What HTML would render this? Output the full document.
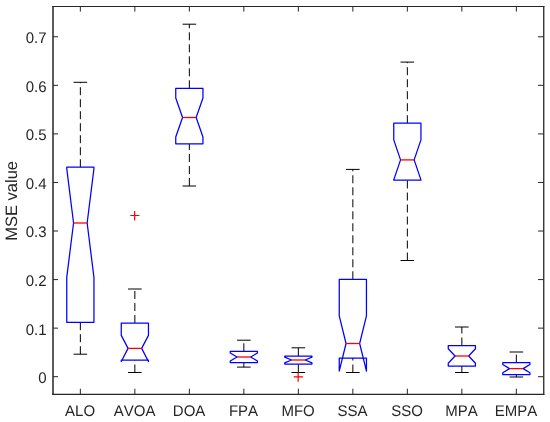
<!DOCTYPE html>
<html><head><meta charset="utf-8"><style>
html,body{margin:0;padding:0;background:#fff;}
body{width:550px;height:422px;overflow:hidden;font-family:"Liberation Sans",sans-serif;}
svg{display:block;position:absolute;left:0;top:0;}
.t{will-change:transform;}
text{font-kerning:none;text-rendering:geometricPrecision;}
</style></head><body>
<svg width="550" height="422" viewBox="0 0 550 422">
<rect width="550" height="422" fill="#fff"/>
<line x1="80.35" y1="167.2" x2="80.35" y2="82.3" stroke="#000" stroke-width="1" stroke-dasharray="8 4"/>
<line x1="80.35" y1="354.2" x2="80.35" y2="322.3" stroke="#000" stroke-width="1" stroke-dasharray="8 4"/>
<line x1="73.55" y1="82.3" x2="87.15" y2="82.3" stroke="#000" stroke-width="1"/>
<line x1="73.55" y1="354.2" x2="87.15" y2="354.2" stroke="#000" stroke-width="1"/>
<polygon points="66.75,322.3 66.75,277.44 73.55,223 66.75,168.56 66.75,167.2 93.95,167.2 93.95,168.56 87.15,223 93.95,277.44 93.95,322.3" fill="none" stroke="#0000ff" stroke-width="1.25" stroke-linejoin="round"/>
<line x1="73.55" y1="223" x2="87.15" y2="223" stroke="#ff0000" stroke-width="1.3"/>
<line x1="134.85" y1="323" x2="134.85" y2="289" stroke="#000" stroke-width="1" stroke-dasharray="8 4"/>
<line x1="134.85" y1="372.5" x2="134.85" y2="360.2" stroke="#000" stroke-width="1" stroke-dasharray="8 4"/>
<line x1="128.05" y1="289" x2="141.65" y2="289" stroke="#000" stroke-width="1"/>
<line x1="128.05" y1="372.5" x2="141.65" y2="372.5" stroke="#000" stroke-width="1"/>
<polygon points="121.25,360.2 121.25,361.46 128.05,348.4 121.25,335.34 121.25,323 148.45,323 148.45,335.34 141.65,348.4 148.45,361.46 148.45,360.2" fill="none" stroke="#0000ff" stroke-width="1.25" stroke-linejoin="round"/>
<line x1="128.05" y1="348.4" x2="141.65" y2="348.4" stroke="#ff0000" stroke-width="1.3"/>
<line x1="189.35" y1="88.3" x2="189.35" y2="24.2" stroke="#000" stroke-width="1" stroke-dasharray="8 4"/>
<line x1="189.35" y1="186" x2="189.35" y2="143.8" stroke="#000" stroke-width="1" stroke-dasharray="8 4"/>
<line x1="182.55" y1="24.2" x2="196.15" y2="24.2" stroke="#000" stroke-width="1"/>
<line x1="182.55" y1="186" x2="196.15" y2="186" stroke="#000" stroke-width="1"/>
<polygon points="175.75,143.8 175.75,136.98 182.55,117.5 175.75,98.02 175.75,88.3 202.95,88.3 202.95,98.02 196.15,117.5 202.95,136.98 202.95,143.8" fill="none" stroke="#0000ff" stroke-width="1.25" stroke-linejoin="round"/>
<line x1="182.55" y1="117.5" x2="196.15" y2="117.5" stroke="#ff0000" stroke-width="1.3"/>
<line x1="243.85" y1="351.3" x2="243.85" y2="340.2" stroke="#000" stroke-width="1" stroke-dasharray="8 4"/>
<line x1="243.85" y1="367.1" x2="243.85" y2="362.6" stroke="#000" stroke-width="1" stroke-dasharray="8 4"/>
<line x1="237.05" y1="340.2" x2="250.65" y2="340.2" stroke="#000" stroke-width="1"/>
<line x1="237.05" y1="367.1" x2="250.65" y2="367.1" stroke="#000" stroke-width="1"/>
<polygon points="230.25,362.6 230.25,360.97 237.05,357 230.25,353.03 230.25,351.3 257.45,351.3 257.45,353.03 250.65,357 257.45,360.97 257.45,362.6" fill="none" stroke="#0000ff" stroke-width="1.25" stroke-linejoin="round"/>
<line x1="237.05" y1="357" x2="250.65" y2="357" stroke="#ff0000" stroke-width="1.3"/>
<line x1="298.35" y1="356" x2="298.35" y2="347.8" stroke="#000" stroke-width="1" stroke-dasharray="8 4"/>
<line x1="298.35" y1="372.5" x2="298.35" y2="364" stroke="#000" stroke-width="1" stroke-dasharray="8 4"/>
<line x1="291.55" y1="347.8" x2="305.15" y2="347.8" stroke="#000" stroke-width="1"/>
<line x1="291.55" y1="372.5" x2="305.15" y2="372.5" stroke="#000" stroke-width="1"/>
<polygon points="284.75,364 284.75,362.81 291.55,360 284.75,357.19 284.75,356 311.95,356 311.95,357.19 305.15,360 311.95,362.81 311.95,364" fill="none" stroke="#0000ff" stroke-width="1.25" stroke-linejoin="round"/>
<line x1="291.55" y1="360" x2="305.15" y2="360" stroke="#ff0000" stroke-width="1.3"/>
<line x1="352.85" y1="279.3" x2="352.85" y2="169.4" stroke="#000" stroke-width="1" stroke-dasharray="8 4"/>
<line x1="352.85" y1="372.5" x2="352.85" y2="358" stroke="#000" stroke-width="1" stroke-dasharray="8 4"/>
<line x1="346.05" y1="169.4" x2="359.65" y2="169.4" stroke="#000" stroke-width="1"/>
<line x1="346.05" y1="372.5" x2="359.65" y2="372.5" stroke="#000" stroke-width="1"/>
<polygon points="339.25,358 339.25,371.12 346.05,343.5 339.25,315.88 339.25,279.3 366.45,279.3 366.45,315.88 359.65,343.5 366.45,371.12 366.45,358" fill="none" stroke="#0000ff" stroke-width="1.25" stroke-linejoin="round"/>
<line x1="346.05" y1="343.5" x2="359.65" y2="343.5" stroke="#ff0000" stroke-width="1.3"/>
<line x1="407.35" y1="123.2" x2="407.35" y2="62.1" stroke="#000" stroke-width="1" stroke-dasharray="8 4"/>
<line x1="407.35" y1="260.5" x2="407.35" y2="180.2" stroke="#000" stroke-width="1" stroke-dasharray="8 4"/>
<line x1="400.55" y1="62.1" x2="414.15" y2="62.1" stroke="#000" stroke-width="1"/>
<line x1="400.55" y1="260.5" x2="414.15" y2="260.5" stroke="#000" stroke-width="1"/>
<polygon points="393.75,180.2 393.75,179.91 400.55,159.9 393.75,139.89 393.75,123.2 420.95,123.2 420.95,139.89 414.15,159.9 420.95,179.91 420.95,180.2" fill="none" stroke="#0000ff" stroke-width="1.25" stroke-linejoin="round"/>
<line x1="400.55" y1="159.9" x2="414.15" y2="159.9" stroke="#ff0000" stroke-width="1.3"/>
<line x1="461.85" y1="345.5" x2="461.85" y2="327" stroke="#000" stroke-width="1" stroke-dasharray="8 4"/>
<line x1="461.85" y1="372.5" x2="461.85" y2="366" stroke="#000" stroke-width="1" stroke-dasharray="8 4"/>
<line x1="455.05" y1="327" x2="468.65" y2="327" stroke="#000" stroke-width="1"/>
<line x1="455.05" y1="372.5" x2="468.65" y2="372.5" stroke="#000" stroke-width="1"/>
<polygon points="448.25,366 448.25,363.2 455.05,356 448.25,348.8 448.25,345.5 475.45,345.5 475.45,348.8 468.65,356 475.45,363.2 475.45,366" fill="none" stroke="#0000ff" stroke-width="1.25" stroke-linejoin="round"/>
<line x1="455.05" y1="356" x2="468.65" y2="356" stroke="#ff0000" stroke-width="1.3"/>
<line x1="516.35" y1="362.7" x2="516.35" y2="352" stroke="#000" stroke-width="1" stroke-dasharray="8 4"/>
<line x1="516.35" y1="377" x2="516.35" y2="374.6" stroke="#000" stroke-width="1" stroke-dasharray="8 4"/>
<line x1="509.55" y1="352" x2="523.15" y2="352" stroke="#000" stroke-width="1"/>
<line x1="509.55" y1="377" x2="523.15" y2="377" stroke="#000" stroke-width="1"/>
<polygon points="502.75,374.6 502.75,372.78 509.55,368.6 502.75,364.42 502.75,362.7 529.95,362.7 529.95,364.42 523.15,368.6 529.95,372.78 529.95,374.6" fill="none" stroke="#0000ff" stroke-width="1.25" stroke-linejoin="round"/>
<line x1="509.55" y1="368.6" x2="523.15" y2="368.6" stroke="#ff0000" stroke-width="1.3"/>
<path d="M130.25 215.5H139.45M134.65 210.9V220.5" stroke="#ff0000" stroke-width="1.2" fill="none"/>
<path d="M293.75 376.8H302.95M298.15 372.2V381.8" stroke="#ff0000" stroke-width="1.2" fill="none"/>
<g stroke="#262626" stroke-width="1.0" fill="none">
<line x1="53" y1="5.9" x2="53" y2="394.9" stroke-width="1.5"/>
<line x1="543.75" y1="5.9" x2="543.75" y2="394.9" stroke-width="1.3"/>
<line x1="52.25" y1="6.5" x2="544.4" y2="6.5" stroke-width="1.1"/>
<line x1="52.25" y1="394.3" x2="544.4" y2="394.3" stroke-width="1.2"/>
<line x1="53" y1="376.7" x2="58" y2="376.7"/>
<line x1="543.5" y1="376.7" x2="538" y2="376.7"/>
<line x1="53" y1="328.14" x2="58" y2="328.14"/>
<line x1="543.5" y1="328.14" x2="538" y2="328.14"/>
<line x1="53" y1="279.58" x2="58" y2="279.58"/>
<line x1="543.5" y1="279.58" x2="538" y2="279.58"/>
<line x1="53" y1="231.02" x2="58" y2="231.02"/>
<line x1="543.5" y1="231.02" x2="538" y2="231.02"/>
<line x1="53" y1="182.46" x2="58" y2="182.46"/>
<line x1="543.5" y1="182.46" x2="538" y2="182.46"/>
<line x1="53" y1="133.9" x2="58" y2="133.9"/>
<line x1="543.5" y1="133.9" x2="538" y2="133.9"/>
<line x1="53" y1="85.34" x2="58" y2="85.34"/>
<line x1="543.5" y1="85.34" x2="538" y2="85.34"/>
<line x1="53" y1="36.78" x2="58" y2="36.78"/>
<line x1="543.5" y1="36.78" x2="538" y2="36.78"/>
<line x1="80.35" y1="394" x2="80.35" y2="388.7"/>
<line x1="80.35" y1="6" x2="80.35" y2="11.6"/>
<line x1="134.85" y1="394" x2="134.85" y2="388.7"/>
<line x1="134.85" y1="6" x2="134.85" y2="11.6"/>
<line x1="189.35" y1="394" x2="189.35" y2="388.7"/>
<line x1="189.35" y1="6" x2="189.35" y2="11.6"/>
<line x1="243.85" y1="394" x2="243.85" y2="388.7"/>
<line x1="243.85" y1="6" x2="243.85" y2="11.6"/>
<line x1="298.35" y1="394" x2="298.35" y2="388.7"/>
<line x1="298.35" y1="6" x2="298.35" y2="11.6"/>
<line x1="352.85" y1="394" x2="352.85" y2="388.7"/>
<line x1="352.85" y1="6" x2="352.85" y2="11.6"/>
<line x1="407.35" y1="394" x2="407.35" y2="388.7"/>
<line x1="407.35" y1="6" x2="407.35" y2="11.6"/>
<line x1="461.85" y1="394" x2="461.85" y2="388.7"/>
<line x1="461.85" y1="6" x2="461.85" y2="11.6"/>
<line x1="516.35" y1="394" x2="516.35" y2="388.7"/>
<line x1="516.35" y1="6" x2="516.35" y2="11.6"/>
</g>
</svg>
<svg class="t" width="550" height="422" viewBox="0 0 550 422">
<g font-family="Liberation Sans, sans-serif" font-size="15" fill="#262626" opacity="0.999">
<text transform="translate(46.6,383.1) scale(1,1.025)" text-anchor="end">0</text>
<text transform="translate(46.6,334.54) scale(1,1.025)" text-anchor="end">0.1</text>
<text transform="translate(46.6,285.98) scale(1,1.025)" text-anchor="end">0.2</text>
<text transform="translate(46.6,237.42) scale(1,1.025)" text-anchor="end">0.3</text>
<text transform="translate(46.6,188.86) scale(1,1.025)" text-anchor="end">0.4</text>
<text transform="translate(46.6,140.3) scale(1,1.025)" text-anchor="end">0.5</text>
<text transform="translate(46.6,91.74) scale(1,1.025)" text-anchor="end">0.6</text>
<text transform="translate(46.6,43.18) scale(1,1.025)" text-anchor="end">0.7</text>
<text transform="translate(80.05,415.8) scale(1,1.025)" text-anchor="middle">ALO</text>
<text transform="translate(134.55,415.8) scale(1,1.025)" text-anchor="middle">AVOA</text>
<text transform="translate(189.05,415.8) scale(1,1.025)" text-anchor="middle">DOA</text>
<text transform="translate(243.55,415.8) scale(1,1.025)" text-anchor="middle">FPA</text>
<text transform="translate(298.05,415.8) scale(1,1.025)" text-anchor="middle">MFO</text>
<text transform="translate(352.55,415.8) scale(1,1.025)" text-anchor="middle">SSA</text>
<text transform="translate(407.05,415.8) scale(1,1.025)" text-anchor="middle">SSO</text>
<text transform="translate(461.55,415.8) scale(1,1.025)" text-anchor="middle">MPA</text>
<text transform="translate(516.05,415.8) scale(1,1.025)" text-anchor="middle">EMPA</text>
</g>
<text opacity="0.999" transform="translate(17.2,240.8) rotate(-90)" font-family="Liberation Sans, sans-serif" font-size="16.5" fill="#262626">MSE value</text>
</svg>
</body></html>
